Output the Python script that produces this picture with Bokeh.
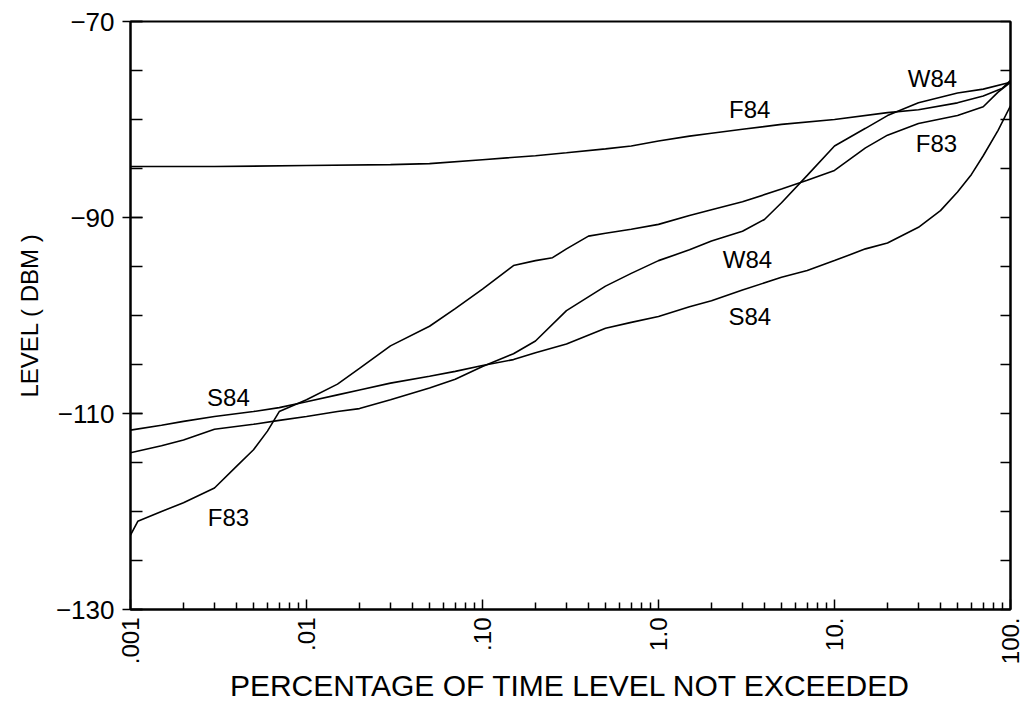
import math
from bokeh.plotting import figure
from bokeh.models import FixedTicker, LinearAxis, Range1d
from bokeh.core.properties import value
from bokeh.embed import file_html
from bokeh.resources import INLINE

# Cumulative signal level distributions: percentage of time level not exceeded (%)
# against received level (dBm), one curve per measurement season.
f84_pct = [0.001, 0.003, 0.01, 0.03, 0.05, 0.1, 0.2, 0.3, 0.5, 0.7, 1, 1.5, 2, 3, 5,
           10, 20, 30, 50, 70, 90, 100]
f84_dbm = [-84.8, -84.8, -84.7, -84.6, -84.5, -84.1, -83.7, -83.4, -83.0, -82.7, -82.2,
           -81.7, -81.4, -81.0, -80.5, -80.0, -79.3, -79.0, -78.3, -77.6, -76.8, -76.0]

w84_pct = [0.001, 0.0015, 0.002, 0.003, 0.005, 0.007, 0.01, 0.015, 0.02, 0.03, 0.05,
           0.07, 0.1, 0.15, 0.2, 0.3, 0.5, 0.7, 1, 1.5, 2, 3, 4, 5, 7, 10, 15, 20, 30,
           50, 70, 100]
w84_dbm = [-114.0, -113.3, -112.7, -111.6, -111.1, -110.7, -110.3, -109.8, -109.5,
           -108.6, -107.4, -106.5, -105.2, -103.9, -102.6, -99.5, -97.0, -95.7, -94.4,
           -93.3, -92.4, -91.4, -90.2, -88.5, -85.7, -82.7, -80.9, -79.6, -78.3, -77.3,
           -76.9, -76.2]

f83_pct = [0.001, 0.0011, 0.0015, 0.002, 0.003, 0.004, 0.005, 0.006, 0.007, 0.01,
           0.015, 0.02, 0.03, 0.05, 0.07, 0.1, 0.15, 0.2, 0.25, 0.3, 0.4, 0.5, 0.7, 1,
           1.5, 2, 3, 5, 7, 10, 15, 20, 30, 50, 70, 85, 100]
f83_dbm = [-122.4, -121.0, -120.0, -119.1, -117.6, -115.4, -113.7, -111.8, -109.8,
           -108.6, -107.0, -105.4, -103.1, -101.1, -99.3, -97.3, -94.9, -94.4, -94.1,
           -93.2, -91.9, -91.6, -91.2, -90.7, -89.8, -89.2, -88.4, -87.1, -86.2, -85.2,
           -82.9, -81.6, -80.4, -79.6, -78.7, -77.2, -76.2]

s84_pct = [0.001, 0.0015, 0.002, 0.003, 0.005, 0.007, 0.01, 0.015, 0.02, 0.03, 0.05,
           0.07, 0.1, 0.15, 0.2, 0.3, 0.5, 0.7, 1, 1.5, 2, 3, 5, 7, 10, 15, 20, 30, 40,
           50, 60, 70, 85, 100]
s84_dbm = [-111.7, -111.2, -110.8, -110.3, -109.8, -109.4, -108.8, -108.1, -107.6,
           -106.9, -106.2, -105.7, -105.1, -104.5, -103.8, -102.9, -101.3, -100.7,
           -100.1, -99.1, -98.5, -97.4, -96.1, -95.4, -94.4, -93.2, -92.6, -91.0, -89.3,
           -87.4, -85.6, -83.7, -81.1, -78.6]

# Curve name tags
tag_text = ["F84", "W84", "F83", "W84", "S84", "S84", "F83"]
tag_pct = [3.3, 36, 38, 3.2, 3.3, 0.0036, 0.0036]
tag_dbm = [-79.0, -75.8, -82.4, -94.3, -100.1, -108.4, -120.6]

# Axis ticks and labels
x_major = [0.001, 0.01, 0.1, 1, 10, 100]
x_labels = [".001", ".01", ".10", "1.0", "10.", "100."]
y_major = [-130, -110, -90, -70]
y_minor = list(range(-130, -69, 5))

FONT = "Liberation Sans"

p = figure(width=1031, height=711, x_axis_type="log",
           x_range=Range1d(0.001, 100), y_range=Range1d(-130, -70),
           output_backend="svg", toolbar_location=None,
           min_border_left=130, min_border_right=21,
           min_border_top=21, min_border_bottom=102)
p.grid.visible = False
p.outline_line_color = "black"
p.outline_line_width = 2
p.background_fill_color = "white"
p.border_fill_color = "white"

# bottom log axis
xa = p.xaxis[0]
x_minor = [k * d for d in [0.001, 0.01, 0.1, 1, 10] for k in range(2, 10)]
xa.ticker = FixedTicker(ticks=x_major, minor_ticks=x_minor)
xa.major_label_overrides = dict(zip(x_major, x_labels))
xa.major_label_orientation = math.pi / 2
xa.major_label_text_font = FONT
xa.major_label_text_font_size = "24px"
xa.major_label_text_color = "black"
xa.major_label_standoff = 8
xa.major_tick_in = 10
xa.major_tick_out = 0
xa.minor_tick_in = 7
xa.minor_tick_out = 0
xa.axis_line_width = 2
xa.major_tick_line_width = 1.5
xa.minor_tick_line_width = 1.5
xa.axis_label = "PERCENTAGE OF TIME LEVEL NOT EXCEEDED"
xa.axis_label_text_font = FONT
xa.axis_label_text_font_style = "normal"
xa.axis_label_text_font_size = "30px"
xa.axis_label_text_color = "black"
xa.axis_label_standoff = 2

# left level axis
ya = p.yaxis[0]
ya.ticker = FixedTicker(ticks=y_major, minor_ticks=y_minor)
ya.major_label_text_font = FONT
ya.major_label_text_font_size = "26px"
ya.major_label_text_color = "black"
ya.major_label_standoff = 8
ya.major_tick_in = 12
ya.major_tick_out = 8
ya.minor_tick_in = 12
ya.minor_tick_out = 0
ya.axis_line_width = 2
ya.major_tick_line_width = 1.5
ya.minor_tick_line_width = 1.5
ya.axis_label = "LEVEL ( DBM )"
ya.axis_label_text_font = FONT
ya.axis_label_text_font_style = "normal"
ya.axis_label_text_font_size = "24px"
ya.axis_label_text_color = "black"
ya.axis_label_standoff = 10

# right axis: ticks only, blank labels
ra = LinearAxis(ticker=FixedTicker(ticks=y_minor, minor_ticks=[]))
ra.major_label_overrides = {v: "" for v in y_minor}
ra.major_label_standoff = 0
ra.major_tick_in = 10
ra.major_tick_out = 0
ra.major_tick_line_width = 1.5
ra.axis_line_width = 2
p.add_layout(ra, "right")

for xs, ys in [(f84_pct, f84_dbm), (w84_pct, w84_dbm), (f83_pct, f83_dbm), (s84_pct, s84_dbm)]:
    p.line(xs, ys, line_color="black", line_width=1.6)

p.text(x=tag_pct, y=tag_dbm, text=tag_text, text_font=value(FONT),
       text_font_size="24px", text_align="center", text_baseline="middle",
       text_color="black")

open("out.html", "w").write(file_html(p, INLINE))
